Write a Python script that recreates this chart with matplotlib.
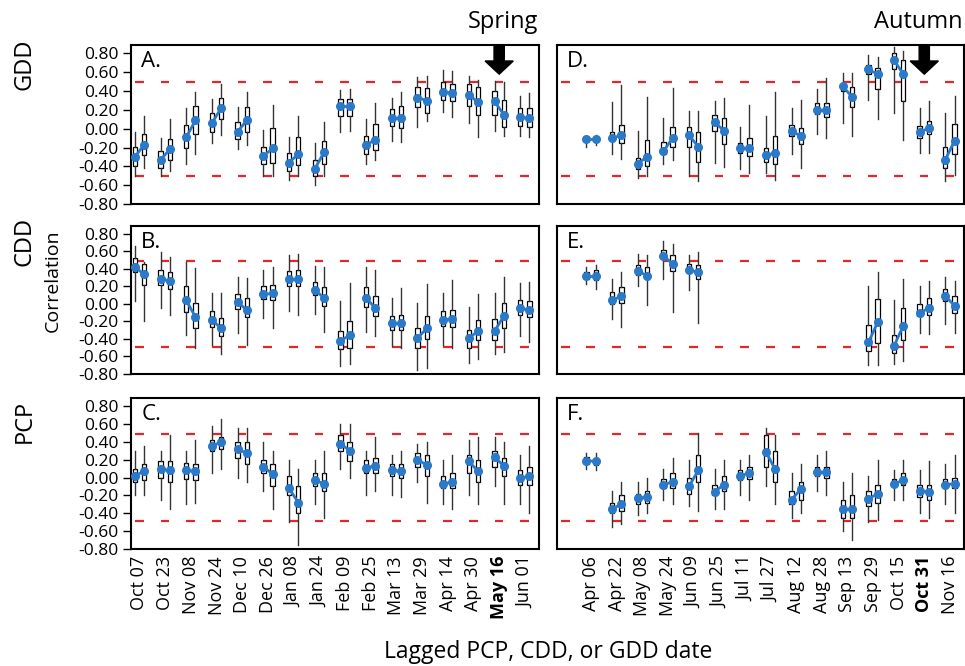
import matplotlib

matplotlib.use("Agg")
import matplotlib.pyplot as plt  # noqa: E402

plt.rcParams["font.family"] = ["Open Sans", "DejaVu Sans"]

# Lag dates (left column: spring window, right column: autumn window)
spring_dates = ["Oct 07", "Oct 23", "Nov 08", "Nov 24", "Dec 10", "Dec 26",
                "Jan 08", "Jan 24", "Feb 09", "Feb 25", "Mar 13", "Mar 29",
                "Apr 14", "Apr 30", "May 16", "Jun 01"]
autumn_dates = ["", "Apr 06", "Apr 22", "May 08", "May 24", "Jun 09", "Jun 25",
                "Jul 11", "Jul 27", "Aug 12", "Aug 28", "Sep 13", "Sep 29",
                "Oct 15", "Oct 31", "Nov 16"]
spring_bold = "May 16"
autumn_bold = "Oct 31"

# Box statistics per date: (whisker low, q1, median, q3, whisker high)
gdd_spring_1 = [(-0.50, -0.40, -0.30, -0.19, -0.04), (-0.50, -0.42, -0.33, -0.24, -0.10),
                (-0.37, -0.20, -0.09, 0.04, 0.22), (-0.15, -0.04, 0.06, 0.17, 0.32),
                (-0.22, -0.11, -0.03, 0.07, 0.23), (-0.50, -0.38, -0.29, -0.19, -0.01),
                (-0.55, -0.45, -0.36, -0.26, -0.09), (-0.60, -0.50, -0.43, -0.33, -0.15),
                (-0.03, 0.14, 0.24, 0.32, 0.41), (-0.38, -0.27, -0.17, -0.08, 0.10),
                (-0.13, 0.03, 0.11, 0.21, 0.33), (0.02, 0.23, 0.33, 0.44, 0.55),
                (0.18, 0.31, 0.39, 0.50, 0.62), (0.06, 0.24, 0.36, 0.48, 0.56),
                (-0.02, 0.15, 0.29, 0.40, 0.51), (-0.08, 0.03, 0.12, 0.22, 0.35)]
gdd_spring_2 = [(-0.42, -0.28, -0.17, -0.06, 0.14), (-0.45, -0.33, -0.22, -0.11, 0.10),
                (-0.27, -0.06, 0.09, 0.24, 0.39), (-0.07, 0.10, 0.22, 0.33, 0.48),
                (-0.17, -0.03, 0.09, 0.23, 0.39), (-0.50, -0.36, -0.21, 0.01, 0.25),
                (-0.50, -0.39, -0.27, -0.09, 0.14), (-0.50, -0.37, -0.25, -0.13, 0.07),
                (-0.02, 0.14, 0.24, 0.32, 0.42), (-0.33, -0.23, -0.12, 0.05, 0.27),
                (-0.14, 0.01, 0.11, 0.24, 0.39), (0.08, 0.17, 0.30, 0.43, 0.56),
                (0.13, 0.30, 0.38, 0.48, 0.61), (-0.09, 0.15, 0.28, 0.44, 0.52),
                (-0.08, 0.02, 0.15, 0.31, 0.50), (-0.09, 0.02, 0.11, 0.22, 0.38)]
gdd_autumn_1 = [None, (-0.19, -0.13, -0.11, -0.09, -0.08), (-0.27, -0.13, -0.10, -0.03, 0.28),
                (-0.52, -0.43, -0.37, -0.31, -0.02), (-0.38, -0.27, -0.24, -0.14, 0.11),
                (-0.50, -0.19, -0.07, 0.02, 0.19), (-0.36, -0.02, 0.07, 0.15, 0.30),
                (-0.43, -0.26, -0.20, -0.15, 0.02), (-0.47, -0.35, -0.28, -0.20, 0.14),
                (-0.27, -0.08, -0.02, 0.04, 0.22), (-0.06, 0.16, 0.20, 0.27, 0.42),
                (0.06, 0.40, 0.45, 0.48, 0.59), (0.31, 0.58, 0.63, 0.68, 0.78),
                (0.17, 0.63, 0.73, 0.80, 0.87), (-0.26, -0.10, -0.04, 0.03, 0.22),
                (-0.56, -0.42, -0.33, -0.19, 0.17)]
gdd_autumn_2 = [None, (-0.17, -0.13, -0.11, -0.09, -0.07), (-0.32, -0.15, -0.07, 0.04, 0.46),
                (-0.50, -0.40, -0.30, -0.12, 0.34), (-0.33, -0.19, -0.10, 0.02, 0.43),
                (-0.56, -0.35, -0.19, -0.03, 0.19), (-0.41, -0.16, -0.02, 0.11, 0.33),
                (-0.47, -0.29, -0.20, -0.10, 0.25), (-0.54, -0.37, -0.26, -0.08, 0.39),
                (-0.42, -0.16, -0.08, 0.01, 0.31), (-0.10, 0.12, 0.20, 0.27, 0.54),
                (-0.08, 0.23, 0.34, 0.44, 0.59), (0.10, 0.42, 0.58, 0.65, 0.76),
                (-0.12, 0.30, 0.58, 0.73, 0.83), (-0.26, -0.06, 0.01, 0.08, 0.29),
                (-0.49, -0.27, -0.13, 0.05, 0.35)]

cdd_spring_1 = [(0.03, 0.37, 0.42, 0.52, 0.66), (-0.05, 0.22, 0.29, 0.39, 0.59),
                (-0.36, -0.09, 0.04, 0.20, 0.48), (-0.47, -0.26, -0.18, -0.08, 0.12),
                (-0.33, -0.06, 0.02, 0.11, 0.31), (-0.16, 0.06, 0.11, 0.20, 0.39),
                (-0.08, 0.21, 0.28, 0.38, 0.56), (-0.11, 0.10, 0.16, 0.25, 0.43),
                (-0.71, -0.52, -0.42, -0.31, 0.03), (-0.32, -0.03, 0.07, 0.19, 0.42),
                (-0.48, -0.30, -0.22, -0.14, 0.07), (-0.76, -0.50, -0.39, -0.28, 0.01),
                (-0.47, -0.25, -0.18, -0.08, 0.13), (-0.68, -0.50, -0.39, -0.30, -0.03),
                (-0.57, -0.41, -0.31, -0.17, 0.13), (-0.37, -0.13, -0.05, 0.05, 0.24)]
cdd_spring_2 = [(-0.20, 0.22, 0.34, 0.46, 0.48), (-0.13, 0.17, 0.26, 0.36, 0.54),
                (-0.50, -0.27, -0.15, 0.01, 0.41), (-0.57, -0.37, -0.28, -0.16, 0.12),
                (-0.47, -0.15, -0.07, 0.07, 0.30), (-0.28, 0.05, 0.12, 0.22, 0.42),
                (-0.13, 0.20, 0.28, 0.39, 0.57), (-0.32, -0.02, 0.07, 0.19, 0.42),
                (-0.69, -0.50, -0.36, -0.20, 0.24), (-0.37, -0.14, -0.05, 0.09, 0.39),
                (-0.50, -0.30, -0.22, -0.13, 0.18), (-0.73, -0.40, -0.28, -0.14, 0.23),
                (-0.50, -0.26, -0.17, -0.07, 0.27), (-0.63, -0.41, -0.31, -0.18, 0.11),
                (-0.55, -0.27, -0.14, 0.01, 0.31), (-0.44, -0.15, -0.07, 0.03, 0.25)]
cdd_autumn_1 = [None, (0.23, 0.29, 0.32, 0.37, 0.42), (-0.17, 0.00, 0.04, 0.14, 0.29),
                (0.20, 0.33, 0.38, 0.45, 0.57), (0.28, 0.51, 0.55, 0.62, 0.72),
                (0.16, 0.36, 0.39, 0.46, 0.56), None, None, None, None, None, None,
                (-0.70, -0.54, -0.44, -0.24, 0.21), (-0.69, -0.56, -0.48, -0.36, 0.04),
                (-0.33, -0.14, -0.10, 0.00, 0.20), (-0.23, 0.03, 0.09, 0.17, 0.31)]
cdd_autumn_2 = [None, (0.17, 0.27, 0.32, 0.39, 0.44), (-0.26, 0.01, 0.09, 0.19, 0.36),
                (-0.01, 0.28, 0.32, 0.42, 0.56), (-0.09, 0.38, 0.46, 0.56, 0.69),
                (-0.22, 0.29, 0.36, 0.45, 0.59), None, None, None, None, None, None,
                (-0.70, -0.45, -0.21, 0.06, 0.36), (-0.65, -0.41, -0.25, -0.05, 0.29),
                (-0.34, -0.13, -0.05, 0.07, 0.26), (-0.33, -0.10, -0.02, 0.09, 0.26)]

pcp_spring_1 = [(-0.20, -0.05, 0.02, 0.10, 0.30), (-0.25, 0.00, 0.09, 0.18, 0.30),
                (-0.30, -0.02, 0.08, 0.16, 0.30), (0.05, 0.30, 0.35, 0.42, 0.58),
                (0.00, 0.22, 0.32, 0.40, 0.55), (-0.15, 0.05, 0.12, 0.20, 0.40),
                (-0.50, -0.20, -0.12, 0.02, 0.20), (-0.30, -0.10, -0.03, 0.05, 0.20),
                (0.10, 0.30, 0.38, 0.48, 0.60), (-0.20, 0.05, 0.11, 0.20, 0.30),
                (-0.20, 0.02, 0.08, 0.15, 0.25), (-0.05, 0.12, 0.20, 0.28, 0.38),
                (-0.30, -0.12, -0.07, 0.02, 0.20), (-0.20, 0.05, 0.18, 0.25, 0.42),
                (-0.10, 0.12, 0.23, 0.30, 0.45), (-0.30, -0.08, -0.01, 0.08, 0.25)]
pcp_spring_2 = [(-0.20, -0.03, 0.07, 0.15, 0.35), (-0.35, -0.05, 0.08, 0.18, 0.48),
                (-0.28, -0.03, 0.07, 0.15, 0.42), (0.10, 0.32, 0.40, 0.45, 0.65),
                (-0.05, 0.15, 0.27, 0.40, 0.55), (-0.35, -0.10, 0.04, 0.15, 0.30),
                (-0.75, -0.40, -0.28, -0.10, 0.10), (-0.45, -0.15, -0.07, 0.05, 0.30),
                (0.00, 0.18, 0.30, 0.40, 0.60), (-0.15, 0.05, 0.13, 0.22, 0.45),
                (-0.22, 0.00, 0.07, 0.15, 0.30), (-0.28, 0.02, 0.14, 0.25, 0.40),
                (-0.35, -0.12, -0.05, 0.05, 0.25), (-0.30, -0.05, 0.07, 0.20, 0.45),
                (-0.30, 0.02, 0.13, 0.22, 0.40), (-0.40, -0.08, 0.02, 0.12, 0.35)]
pcp_autumn_1 = [None, (0.10, 0.15, 0.19, 0.23, 0.28), (-0.55, -0.40, -0.35, -0.28, -0.15),
                (-0.42, -0.30, -0.23, -0.18, -0.05), (-0.25, -0.12, -0.08, -0.02, 0.10),
                (-0.32, -0.18, -0.10, 0.00, 0.20), (-0.35, -0.20, -0.16, -0.08, 0.10),
                (-0.20, -0.03, 0.02, 0.08, 0.20), (-0.10, 0.12, 0.29, 0.48, 0.55),
                (-0.45, -0.30, -0.25, -0.15, 0.05), (-0.15, 0.02, 0.06, 0.12, 0.25),
                (-0.60, -0.45, -0.35, -0.25, -0.05), (-0.50, -0.32, -0.24, -0.15, 0.02),
                (-0.25, -0.10, -0.07, -0.02, 0.08), (-0.40, -0.22, -0.15, -0.08, 0.08),
                (-0.30, -0.12, -0.08, -0.02, 0.15)]
pcp_autumn_2 = [None, (0.08, 0.14, 0.18, 0.22, 0.27), (-0.52, -0.38, -0.30, -0.20, -0.05),
                (-0.40, -0.28, -0.22, -0.15, 0.00), (-0.30, -0.12, -0.05, 0.05, 0.22),
                (-0.38, -0.05, 0.08, 0.25, 0.50), (-0.35, -0.15, -0.08, 0.02, 0.20),
                (-0.25, -0.02, 0.05, 0.12, 0.25), (-0.30, -0.05, 0.09, 0.30, 0.48),
                (-0.40, -0.25, -0.13, -0.05, 0.15), (-0.20, 0.00, 0.06, 0.12, 0.30),
                (-0.70, -0.45, -0.35, -0.20, 0.05), (-0.48, -0.28, -0.18, -0.08, 0.20),
                (-0.25, -0.08, -0.03, 0.05, 0.20), (-0.45, -0.25, -0.16, -0.08, 0.18),
                (-0.40, -0.12, -0.07, 0.00, 0.25)]

# significance thresholds (|r|) for each variable
gdd_limit = 0.50
cdd_limit = 0.49
pcp_limit = 0.49

BLUE = "#2a7ac9"
RED = "#e3262b"
OFFSET = 0.18

W, H = 965, 666
fig = plt.figure(figsize=(W / 100, H / 100), dpi=100)


def px_axes(x0, x1, y0, y1):
    return fig.add_axes([x0 / W, 1 - y1 / H, (x1 - x0) / W, (y1 - y0) / H])


def draw_panel(ax, first, second, limit, letter):
    n = len(first)
    for shift, series in ((-OFFSET, first), (OFFSET, second)):
        idx = [i for i, s in enumerate(series) if s is not None]
        stats = [dict(whislo=series[i][0], q1=series[i][1], med=series[i][2],
                      q3=series[i][3], whishi=series[i][4], fliers=[]) for i in idx]
        ax.bxp(stats, positions=[i + shift for i in idx], widths=0.17,
               showcaps=False, patch_artist=True, manage_ticks=False,
               boxprops=dict(facecolor="white", edgecolor="black", linewidth=0.9),
               whiskerprops=dict(color="#333333", linewidth=1.0),
               medianprops=dict(linewidth=0), zorder=2)
    for i in range(n):
        if first[i] is not None and second[i] is not None:
            ax.plot([i - OFFSET, i + OFFSET], [first[i][2], second[i][2]], "-o",
                    color=BLUE, lw=2, ms=5.5, zorder=4)
    xs0 = [i - OFFSET for i in range(n)]
    xs1 = [i + OFFSET - 0.02 for i in range(n)]
    ax.hlines([limit] * n, xs0, xs1, color=RED, lw=1.6, zorder=1)
    ax.hlines([-limit] * n, xs0, xs1, color=RED, lw=1.6, zorder=1)
    ax.set_xlim(-0.33, n - 0.45)
    ax.set_ylim(-0.80, 0.89)
    ax.set_xticks(range(n))
    ax.tick_params(axis="x", length=0)
    ax.set_xticklabels([])
    for side in ax.spines.values():
        side.set_linewidth(1.5)
    ax.text(0.025, 0.96, letter, transform=ax.transAxes, ha="left", va="top",
            fontsize=16)


rows = [(45, 204), (226, 374), (398, 549)]
left_col = (131, 539)
right_col = (557, 964)

panels = [
    (gdd_spring_1, gdd_spring_2, gdd_autumn_1, gdd_autumn_2, gdd_limit, "A.", "D."),
    (cdd_spring_1, cdd_spring_2, cdd_autumn_1, cdd_autumn_2, cdd_limit, "B.", "E."),
    (pcp_spring_1, pcp_spring_2, pcp_autumn_1, pcp_autumn_2, pcp_limit, "C.", "F."),
]

yticks = [-0.8, -0.6, -0.4, -0.2, 0.0, 0.2, 0.4, 0.6, 0.8]
axes = []
for (y0, y1), (s1, s2, a1, a2, lim, la, lb) in zip(rows, panels):
    axl = px_axes(*left_col, y0, y1)
    axr = px_axes(*right_col, y0, y1)
    draw_panel(axl, s1, s2, lim, la)
    draw_panel(axr, a1, a2, lim, lb)
    axl.set_yticks(yticks)
    axl.set_yticklabels([f"{v:.2f}" for v in yticks], fontsize=12.5)
    axl.tick_params(axis="y", direction="out", length=6, width=1, pad=3)
    axr.tick_params(axis="y", left=False, labelleft=False)
    axes.append((axl, axr))

# date labels under the bottom row
for ax, dates, bold in ((axes[2][0], spring_dates, spring_bold),
                        (axes[2][1], autumn_dates, autumn_bold)):
    ax.set_xticklabels(dates, rotation=90, fontsize=13)
    ax.tick_params(axis="x", pad=5)
    for lab in ax.get_xticklabels():
        if lab.get_text() == bold:
            lab.set_fontweight("bold")

# season markers
for ax, dates, bold in ((axes[0][0], spring_dates, spring_bold),
                        (axes[0][1], autumn_dates, autumn_bold)):
    xi = dates.index(bold)
    ax.arrow(xi, 0.89, 0, -0.17, width=0.4, head_width=1.1, head_length=0.14,
             length_includes_head=False, color="black", zorder=6, clip_on=False)

fig.text(503 / W, 1 - 22 / H, "Spring", ha="center", va="center", fontsize=17)
fig.text(962 / W, 1 - 22 / H, "Autumn", ha="right", va="center", fontsize=17)

fig.text(24 / W, 1 - 64 / H, "GDD", rotation=90, ha="center", va="center", fontsize=17)
fig.text(25 / W, 1 - 241 / H, "CDD", rotation=90, ha="center", va="center", fontsize=17)
fig.text(25 / W, 1 - 421 / H, "PCP", rotation=90, ha="center", va="center", fontsize=17)
fig.text(53 / W, 1 - 281 / H, "Correlation", rotation=90, ha="center", va="center",
         fontsize=14)
fig.text(548 / W, 1 - 652 / H, "Lagged PCP, CDD, or GDD date", ha="center",
         va="center", fontsize=16.5)

fig.savefig("out.png", dpi=100)
